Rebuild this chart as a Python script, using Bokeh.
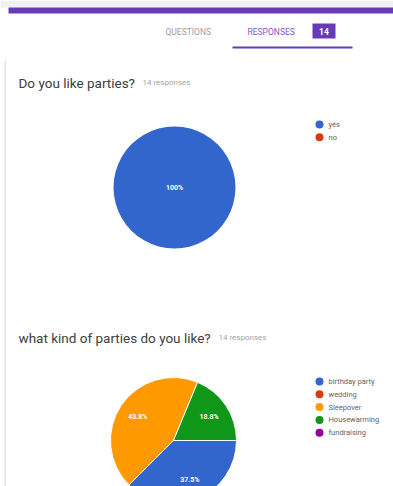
import math
from bokeh.plotting import figure
from bokeh.models import Range1d, ColumnDataSource
from bokeh.core.properties import value
from bokeh.embed import file_html
from bokeh.resources import INLINE

# ---- data ----
q1_title = "Do you like parties?"
q1_categories = ["yes", "no"]
q1_counts = [14, 0]
q1_responses = "14 responses"

q2_title = "what kind of parties do you like?"
q2_categories = ["birthday party", "wedding", "Sleepover", "Housewarming", "fundraising"]
q2_counts = [6, 0, 7, 3, 0]
q2_responses = "14 responses"

colors = ["#3366cc", "#dc3912", "#ff9900", "#109618", "#990099"]
tab_labels = ["QUESTIONS", "RESPONSES"]
badge_count = "14"

W, H = 393, 486
FONT = "Roboto"


def X(rx):
    return rx


def Y(ry):
    return H - ry


p = figure(width=W, height=H, x_range=Range1d(0, W), y_range=Range1d(0, H),
           output_backend="svg", toolbar_location=None, min_border=0)
p.axis.visible = False
p.grid.visible = False
p.outline_line_color = None
p.background_fill_color = "white"
p.border_fill_color = "white"

# page chrome
p.quad(left=[0], right=[W], top=[Y(0)], bottom=[Y(7)],
       fill_color="#f1f1f3", line_color=None)
p.quad(left=[X(8)], right=[W], top=[Y(7)], bottom=[Y(13)],
       fill_color="#673ab7", line_color=None)
p.quad(left=[X(4)], right=[X(5.5)], top=[Y(60)], bottom=[0],
       fill_color="#e3e3e6", line_color=None)
p.text(x=[X(165), X(247)], y=[Y(31), Y(31)], text=tab_labels,
       text_font=value(FONT), text_font_size="8.5px", text_baseline="middle",
       text_color=["#9aa0a6", "#7e57c2"])
p.quad(left=[X(312)], right=[X(335)], top=[Y(23)], bottom=[Y(38)],
       fill_color="#673ab7", line_color=None)
p.text(x=[X(323.5)], y=[Y(30.5)], text=[badge_count], text_font=value(FONT),
       text_font_size="8.5px", text_baseline="middle", text_align="center",
       text_color="white", text_font_style="bold")
p.quad(left=[X(232)], right=[X(352)], top=[Y(46)], bottom=[Y(48)],
       fill_color="#673ab7", line_color=None)


def pie(categories, counts, cx, cy, r, title, responses, ty, resp_x, legend_y0):
    total = sum(counts)
    starts, ends, cols, lx, ly, labs = [], [], [], [], [], []
    a = 0.0
    for c, col in zip(counts, colors):
        span = 2 * math.pi * c / total
        if c > 0:
            full = c == total
            starts.append(a)
            ends.append(a - span if not full else a - (2 * math.pi - 1e-4))
            cols.append(col)
            if full:
                lx.append(X(cx)); ly.append(Y(cy))
            else:
                mid = a - span / 2
                lx.append(X(cx) + 0.68 * r * math.cos(mid))
                ly.append(Y(cy) + 0.68 * r * math.sin(mid))
            labs.append(f"{100 * c / total:.1f}%".replace(".0%", "%"))
        a -= span
    src = ColumnDataSource(dict(s=starts, e=ends, c=cols))
    single = len(starts) == 1
    p.wedge(x=X(cx), y=Y(cy), radius=r, start_angle="s", end_angle="e",
            direction="clock", fill_color="c",
            line_color=None if single else "white",
            line_width=1, source=src)
    p.text(x=lx, y=ly, text=labs, text_font=value(FONT), text_font_size="7px",
           text_align="center", text_baseline="middle", text_color="white",
           text_font_style="bold")
    # title
    p.text(x=[X(18)], y=[Y(ty)], text=[title], text_font=value(FONT),
           text_font_size="13.5px", text_baseline="middle", text_color="#3c4043")
    p.text(x=[X(resp_x)], y=[Y(ty)], text=[responses], text_font=value(FONT),
           text_font_size="8px", text_baseline="middle", text_color="#a0a4a8")
    # legend
    n = len(categories)
    ys = [Y(legend_y0 + 12.8 * i) for i in range(n)]
    p.scatter(x=[X(319)] * n, y=ys, size=8, fill_color=colors[:n], line_color=None)
    p.text(x=[X(328)] * n, y=ys, text=categories, text_font=value(FONT),
           text_font_size="7.5px", text_baseline="middle", text_color="#5f6368")


pie(q1_categories, q1_counts, 174, 187, 61, q1_title, q1_responses, 82, 142, 124)
pie(q2_categories, q2_counts, 173, 440, 63, q2_title, q2_responses, 337, 218, 381)

open("out.html", "w").write(file_html(p, INLINE))
